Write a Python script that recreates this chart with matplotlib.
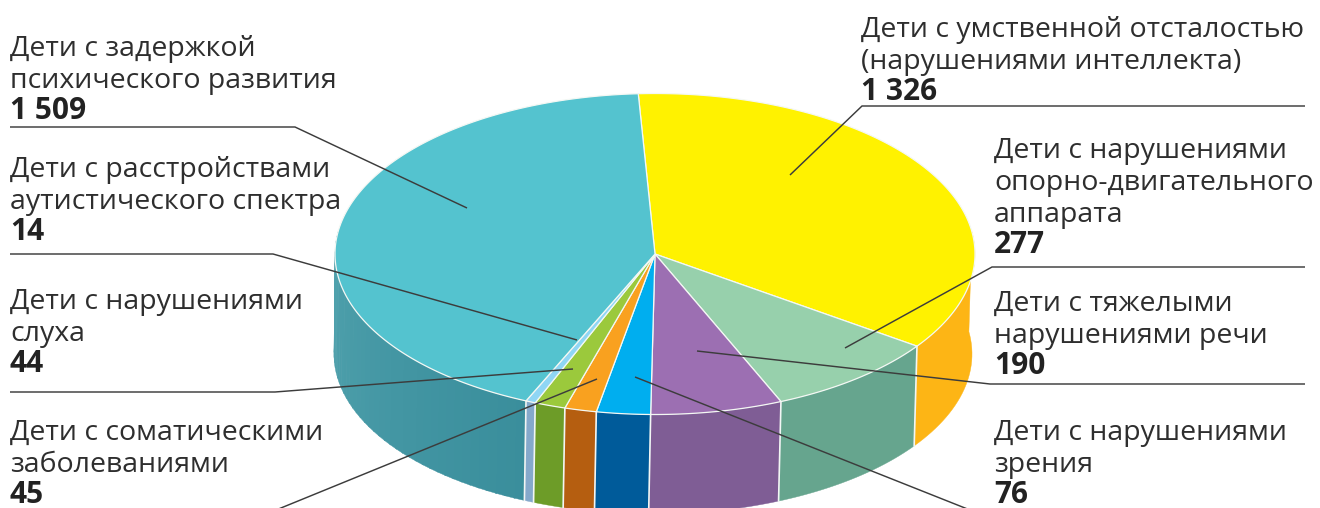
import numpy as np
import matplotlib
matplotlib.use("Agg")
import matplotlib.pyplot as plt
from matplotlib.patches import Polygon
from matplotlib.colors import to_rgb

# ---- data (clockwise order on the pie, starting at the top) ----
categories = [
    "Дети с умственной отсталостью\n(нарушениями интеллекта)",
    "Дети с нарушениями\nопорно-двигательного\nаппарата",
    "Дети с тяжелыми\nнарушениями речи",
    "Дети с нарушениями\nзрения",
    "Дети с соматическими\nзаболеваниями",
    "Дети с нарушениями\nслуха",
    "Дети с расстройствами\nаутистического спектра",
    "Дети с задержкой\nпсихического развития",
]
values = [1326, 277, 190, 76, 45, 44, 14, 1509]
top_colors = ["#fff200", "#97d0ac", "#9c6fb2", "#00aeef", "#f9a11f", "#9bc93c", "#8fd6f5", "#54c3cf"]
wall_colors = ["#fdb515", "#66a58e", "#7f5d95", "#005b9a", "#b55e10", "#6d9c28", "#85a9cb", "#3a8e9c"]

# ---- layout ----
CX, CY, RX, RY = 655, 254, 320, 160.5
BCX, BCY, BRX, BRY = 653, 354, 319, 160
START = 93.0
FONT = "Open Sans"
FS = 20.5
TXT = "#2e2e2e"
LINE = "#3c3c3c"
LH = 32
# x, first baseline, horizontal rule y, rule far end, knee x, tip (x, y)
layout = [
    (861, 37, 106, 1305, 862, (790, 175)),
    (994, 158, 267, 1305, 992, (845, 348)),
    (994, 311, 384, 1305, 990, (697, 351)),
    (994, 440, 510, 1305, 970, (635, 377)),
    (10, 440, 510, 100, 276, (597, 379)),
    (10, 309, 392, 10, 275, (573, 369)),
    (10, 177, 254, 10, 273, (577, 340)),
    (10, 56, 127, 10, 295, (467, 208)),
]


def drawn_angle(phi):
    """Front of the disc is stretched by the picture's foreshortening."""
    u = (np.asarray(phi, float) - 191.0) / 60.0
    return phi + 15.0 * u * np.exp(-u * u / 2)


def pt(theta, cx, cy, rx, ry):
    t = np.radians(theta)
    return np.column_stack([cx + rx * np.cos(t), cy - ry * np.sin(t)])


fig = plt.figure(figsize=(13.2, 5.08), dpi=100)
ax = fig.add_axes([0, 0, 1, 1])
ax.set_xlim(0, 1320)
ax.set_ylim(508, 0)
ax.axis("off")

shares = np.array(values, float) / sum(values) * 360
edges = np.concatenate([[0], np.cumsum(shares)])
d0, d1 = drawn_angle(0.0), drawn_angle(360.0)
drawn = (drawn_angle(edges) - d0) * 360 / (d1 - d0)
angles = START - drawn  # math angle, decreasing clockwise

# walls: only the part facing the viewer
for i in range(len(values)):
    a, b = angles[i], angles[i + 1]
    a_vis, b_vis = min(a, 8.0), max(b, -188.0)
    if a_vis <= b_vis:
        continue
    n = 40 if i == len(values) - 1 else 1
    cuts = np.linspace(a_vis, b_vis, n + 1)
    base = np.array(to_rgb(wall_colors[i]))
    for k in range(n):
        th = np.linspace(cuts[k], cuts[k + 1] - 0.3 * (k < n - 1), 30)
        poly = np.vstack([pt(th, CX, CY, RX, RY), pt(th[::-1], BCX, BCY, BRX, BRY)])
        col = base
        if n > 1:  # teal wall lightens towards the left rim
            col = np.clip(base + (k / (n - 1)) * np.array([0.09, 0.08, 0.07]), 0, 1)
        ax.add_patch(Polygon(poly, closed=True, fc=col, ec=col, lw=0.3, zorder=2))

# wall seams
for ang in angles[1:-1]:
    if -180 < ang < 0:
        p = np.vstack([pt([ang], CX, CY, RX, RY), pt([ang], BCX, BCY, BRX, BRY)])
        ax.plot(p[:, 0], p[:, 1], color="#f2f6f4", lw=1.2, zorder=3)

# top face
for i in range(len(values)):
    th = np.linspace(angles[i], angles[i + 1], 200)
    poly = np.vstack([[[CX, CY]], pt(th, CX, CY, RX, RY)])
    ax.add_patch(Polygon(poly, closed=True, fc=top_colors[i], ec="#f4f8f4", lw=0.9, zorder=4))

# leader lines
for (x, base, ry, far, kx, tip) in layout:
    ax.plot([far, kx, tip[0]], [ry, ry, tip[1]], color=LINE, lw=1.05, zorder=6,
            solid_joinstyle="miter", solid_capstyle="butt")

# labels
for (x, base, *_), name, v in zip(layout, categories, values):
    lines = name.split("\n")
    for j, s in enumerate(lines):
        ax.text(x, base + j * LH, s, fontsize=FS, family=FONT, color=TXT, va="baseline", ha="left", zorder=7)
    num = f"{v:,}".replace(",", " ")
    ax.text(x, base + len(lines) * LH - 1, num, fontsize=FS + 1.0, family=FONT, weight="bold",
            color="#222222", va="baseline", ha="left", zorder=7)

fig.savefig("out.png", dpi=100, facecolor="white")
